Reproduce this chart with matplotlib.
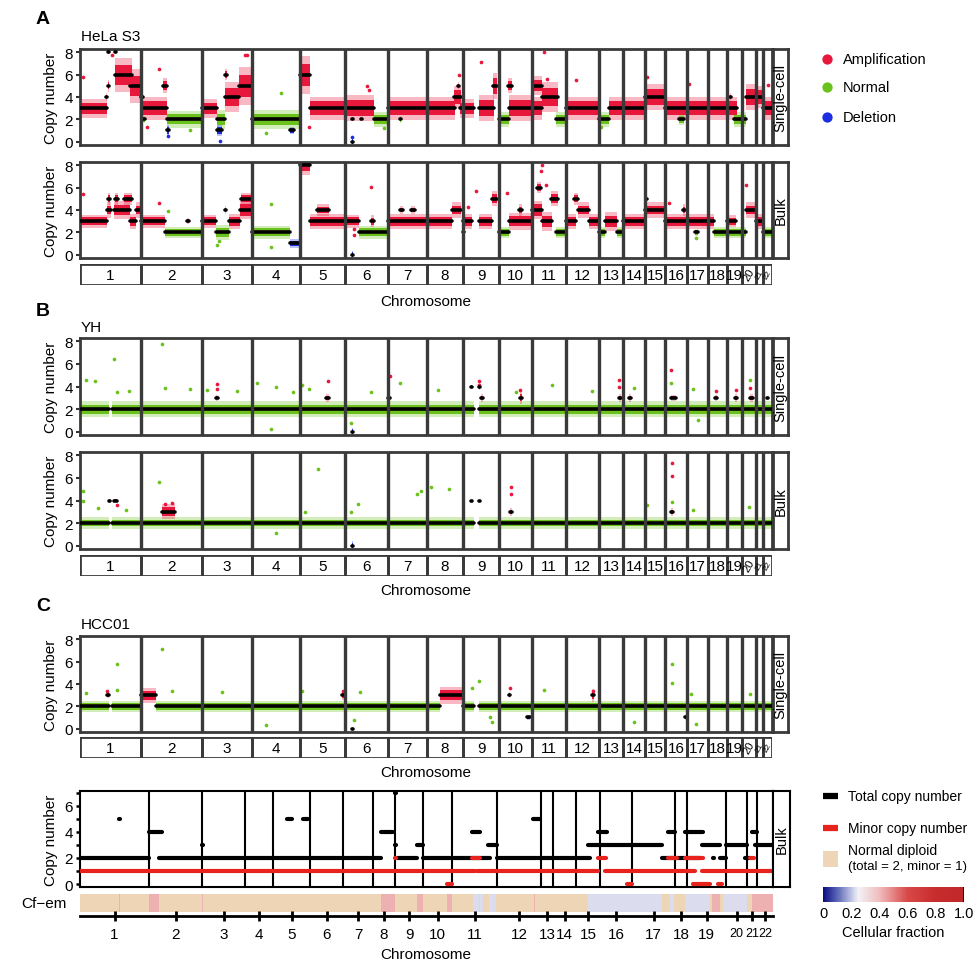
import matplotlib
matplotlib.use("Agg")
import matplotlib.pyplot as plt
import numpy as np
from matplotlib.patches import Rectangle
from matplotlib.colors import LinearSegmentedColormap, Normalize
from matplotlib.cm import ScalarMappable

plt.rcParams.update({"font.family": ["Liberation Sans", "DejaVu Sans"], "font.size": 10.5})

W, H = 973, 962

CHROMS = [str(i) for i in range(1, 23)]
# relative chromosome widths (bins) in the per-sample scatter tracks
CHROM_BINS = [61, 61, 50, 48, 45, 43, 39, 36, 36, 33, 34, 33, 24, 22, 20, 22, 21, 19, 15, 14, 7, 9]
# relative chromosome widths in the bulk allele-specific track
BULK_BINS = [69, 53, 43, 28, 37, 33, 30, 22, 28, 29, 45, 44, 12, 23, 24, 32, 43, 12, 39, 21, 10, 16]

# segments: (chrom, start_frac, end_frac, copy_number, bin_spread)
HELA_SC_SEGS = [
    (1, 0.00, 0.44, 3, 0.5), (1, 0.42, 0.44, 4, 0.2), (1, 0.46, 0.48, 5, 0.3), (1, 0.46, 0.48, 8, 0.1),
    (1, 0.57, 0.59, 8, 0.1), (1, 0.57, 0.85, 6, 0.9), (1, 0.82, 0.98, 5, 0.9),
    (2, 0.00, 0.04, 4, 0.3), (2, 0.04, 0.42, 3, 0.6), (2, 0.36, 0.42, 5, 0.4), (2, 0.42, 1.00, 2, 0.45),
    (2, 0.43, 0.46, 1, 0.3), (2, 0.04, 0.06, 2, 0.2),
    (3, 0.00, 0.30, 3, 0.5), (3, 0.30, 0.46, 2, 0.5), (3, 0.30, 0.40, 1, 0.3), (3, 0.45, 0.49, 6, 0.3),
    (3, 0.46, 0.74, 4, 0.8), (3, 0.74, 1.00, 5, 1.0),
    (4, 0.00, 0.97, 2, 0.5), (4, 0.80, 0.87, 1, 0.2),
    (5, 0.00, 0.23, 6, 1.0), (5, 0.23, 1.00, 3, 0.6),
    (6, 0.00, 0.67, 3, 0.7), (6, 0.16, 0.19, 0, 0.25), (6, 0.16, 0.19, 2, 0.1), (6, 0.38, 0.40, 2, 0.1),
    (6, 0.67, 1.00, 2, 0.4),
    (7, 0.00, 1.00, 3, 0.6), (7, 0.30, 0.33, 2, 0.2),
    (8, 0.00, 0.78, 3, 0.6), (8, 0.75, 0.95, 4, 0.6), (8, 0.86, 0.90, 5, 0.2), (8, 0.92, 1.00, 3, 0.5),
    (9, 0.00, 0.30, 3, 0.5), (9, 0.45, 0.85, 3, 0.7), (9, 0.83, 0.95, 5, 0.7),
    (10, 0.00, 0.30, 2, 0.4), (10, 0.28, 0.38, 5, 0.4), (10, 0.30, 1.00, 3, 0.7),
    (11, 0.00, 0.30, 3, 0.6), (11, 0.04, 0.30, 5, 0.5), (11, 0.30, 0.75, 4, 0.8), (11, 0.28, 0.30, 6, 0.2),
    (11, 0.70, 1.00, 2, 0.4),
    (12, 0.00, 1.00, 3, 0.6),
    (13, 0.00, 0.40, 2, 0.4), (13, 0.40, 1.00, 3, 0.6),
    (14, 0.00, 1.00, 3, 0.6),
    (15, 0.00, 1.00, 4, 0.7),
    (16, 0.00, 1.00, 3, 0.6), (16, 0.65, 0.85, 2, 0.3),
    (17, 0.00, 1.00, 3, 0.6),
    (18, 0.00, 1.00, 3, 0.6),
    (19, 0.00, 0.65, 3, 0.6), (19, 0.20, 0.25, 4, 0.2), (19, 0.45, 1.00, 2, 0.4),
    (20, 0.00, 0.30, 2, 0.4), (20, 0.30, 1.00, 4, 0.7),
    (21, 0.00, 1.00, 4, 0.6),
    (22, 0.00, 1.00, 3, 0.6),
]
HELA_BULK_SEGS = [
    (1, 0.00, 0.44, 3, 0.35), (1, 0.44, 0.50, 4, 0.4), (1, 0.46, 0.49, 5, 0.3), (1, 0.55, 0.82, 4, 0.45),
    (1, 0.58, 0.62, 5, 0.3), (1, 0.72, 0.85, 5, 0.3), (1, 0.82, 0.92, 3, 0.4), (1, 0.92, 1.00, 4, 0.4),
    (2, 0.00, 0.40, 3, 0.35), (2, 0.40, 1.00, 2, 0.3), (2, 0.75, 0.78, 3, 0.15),
    (3, 0.00, 0.28, 3, 0.35), (3, 0.28, 0.53, 2, 0.4), (3, 0.45, 0.48, 4, 0.2), (3, 0.53, 0.75, 3, 0.4),
    (3, 0.75, 1.00, 4, 0.5), (3, 0.78, 1.00, 5, 0.3),
    (4, 0.00, 0.80, 2, 0.35), (4, 0.80, 1.00, 1, 0.25),
    (5, 0.00, 0.23, 8, 0.5), (5, 0.23, 1.00, 3, 0.4), (5, 0.38, 0.65, 4, 0.3),
    (6, 0.00, 0.33, 3, 0.35), (6, 0.16, 0.19, 0, 0.2), (6, 0.33, 1.00, 2, 0.35), (6, 0.60, 0.68, 3, 0.3),
    (7, 0.00, 1.00, 3, 0.4), (7, 0.30, 0.38, 4, 0.2), (7, 0.60, 0.68, 4, 0.2),
    (8, 0.00, 0.70, 3, 0.4), (8, 0.70, 0.95, 4, 0.4),
    (9, 0.00, 0.25, 3, 0.4), (9, 0.00, 0.03, 2, 0.1), (9, 0.45, 0.80, 3, 0.4), (9, 0.80, 0.95, 5, 0.4),
    (10, 0.00, 0.30, 2, 0.3), (10, 0.30, 1.00, 3, 0.45), (10, 0.60, 0.70, 4, 0.3),
    (11, 0.00, 0.30, 4, 0.5), (11, 0.30, 0.60, 3, 0.5), (11, 0.55, 0.75, 5, 0.4), (11, 0.15, 0.25, 6, 0.3),
    (11, 0.70, 1.00, 2, 0.3),
    (12, 0.00, 0.30, 3, 0.4), (12, 0.25, 0.35, 5, 0.3), (12, 0.35, 0.70, 4, 0.4), (12, 0.70, 1.00, 3, 0.4),
    (13, 0.00, 0.25, 2, 0.3), (13, 0.25, 0.75, 3, 0.5), (13, 0.75, 1.00, 2, 0.3),
    (14, 0.00, 1.00, 3, 0.4),
    (15, 0.00, 1.00, 4, 0.4), (15, 0.05, 0.10, 5, 0.2),
    (16, 0.00, 1.00, 3, 0.4), (16, 0.80, 0.90, 4, 0.3), (16, 0.75, 0.78, 2, 0.2),
    (17, 0.00, 1.00, 3, 0.4), (17, 0.40, 0.50, 2, 0.2),
    (18, 0.00, 0.30, 3, 0.4), (18, 0.30, 1.00, 2, 0.3),
    (19, 0.00, 1.00, 2, 0.3), (19, 0.00, 0.60, 3, 0.3),
    (20, 0.00, 0.30, 2, 0.3), (20, 0.30, 0.90, 4, 0.4),
    (21, 0.00, 1.00, 3, 0.4),
    (22, 0.00, 1.00, 2, 0.3),
]
YH_SC_SEGS = [
    (1, 0.00, 0.47, 2, 0.4), (1, 0.53, 1.00, 2, 0.4), (2, 0.00, 1.00, 2, 0.4), (3, 0.00, 1.00, 2, 0.4),
    (3, 0.28, 0.32, 3, 0.15), (4, 0.00, 1.00, 2, 0.4), (5, 0.00, 1.00, 2, 0.4), (5, 0.58, 0.64, 3, 0.2),
    (6, 0.00, 1.00, 2, 0.4), (6, 0.16, 0.19, 0, 0.2), (7, 0.00, 1.00, 2, 0.4), (7, 0.00, 0.04, 3, 0.15),
    (8, 0.00, 1.00, 2, 0.4), (9, 0.00, 0.30, 2, 0.4), (9, 0.45, 1.00, 2, 0.4), (9, 0.22, 0.25, 4, 0.1),
    (9, 0.45, 0.48, 4, 0.2), (9, 0.50, 0.55, 3, 0.2), (10, 0.00, 1.00, 2, 0.4), (10, 0.64, 0.70, 3, 0.3),
    (11, 0.00, 1.00, 2, 0.4), (12, 0.00, 1.00, 2, 0.4), (13, 0.00, 1.00, 2, 0.4), (13, 0.85, 0.92, 3, 0.2),
    (14, 0.00, 1.00, 2, 0.4), (14, 0.25, 0.35, 3, 0.2), (15, 0.00, 1.00, 2, 0.4), (16, 0.00, 1.00, 2, 0.4),
    (16, 0.25, 0.50, 3, 0.15), (17, 0.00, 1.00, 2, 0.4), (18, 0.00, 1.00, 2, 0.4), (18, 0.38, 0.45, 3, 0.15),
    (19, 0.00, 1.00, 2, 0.4), (19, 0.55, 0.65, 3, 0.2), (20, 0.00, 1.00, 2, 0.4), (20, 0.55, 0.75, 3, 0.2),
    (21, 0.00, 1.00, 2, 0.4), (22, 0.00, 1.00, 2, 0.4), (22, 0.40, 0.50, 3, 0.1),
]
YH_BULK_SEGS = [
    (1, 0.00, 0.47, 2, 0.3), (1, 0.53, 1.00, 2, 0.3), (1, 0.47, 0.49, 4, 0.1), (1, 0.55, 0.60, 4, 0.1),
    (2, 0.00, 1.00, 2, 0.3), (2, 0.35, 0.55, 3, 0.4), (3, 0.00, 1.00, 2, 0.3), (4, 0.00, 1.00, 2, 0.3),
    (5, 0.00, 1.00, 2, 0.3), (6, 0.00, 1.00, 2, 0.3), (6, 0.16, 0.19, 0, 0.25), (7, 0.00, 1.00, 2, 0.3),
    (8, 0.00, 1.00, 2, 0.3), (9, 0.00, 0.30, 2, 0.3), (9, 0.45, 1.00, 2, 0.3), (9, 0.22, 0.25, 4, 0.05),
    (9, 0.45, 0.48, 4, 0.05), (10, 0.00, 1.00, 2, 0.3), (10, 0.33, 0.38, 3, 0.2), (11, 0.00, 1.00, 2, 0.3),
    (12, 0.00, 1.00, 2, 0.3), (13, 0.00, 1.00, 2, 0.3), (14, 0.00, 1.00, 2, 0.3), (15, 0.00, 1.00, 2, 0.3),
    (16, 0.00, 1.00, 2, 0.3), (16, 0.28, 0.35, 3, 0.2), (17, 0.00, 1.00, 2, 0.3), (18, 0.00, 1.00, 2, 0.3),
    (19, 0.00, 1.00, 2, 0.3), (20, 0.00, 1.00, 2, 0.3), (21, 0.00, 1.00, 2, 0.3), (22, 0.00, 1.00, 2, 0.3),
]
HCC_SC_SEGS = [
    (1, 0.00, 0.47, 2, 0.3), (1, 0.53, 1.00, 2, 0.3), (1, 0.44, 0.47, 3, 0.15), (2, 0.00, 0.25, 3, 0.4),
    (2, 0.25, 1.00, 2, 0.3), (3, 0.00, 1.00, 2, 0.3), (4, 0.00, 1.00, 2, 0.3), (5, 0.00, 1.00, 2, 0.3),
    (5, 0.94, 0.97, 3, 0.25), (6, 0.00, 1.00, 2, 0.3), (6, 0.16, 0.19, 0, 0.1), (7, 0.00, 1.00, 2, 0.3),
    (8, 0.00, 0.35, 2, 0.3), (8, 0.35, 1.00, 3, 0.45), (9, 0.00, 0.30, 2, 0.3), (9, 0.45, 1.00, 2, 0.3),
    (10, 0.00, 1.00, 2, 0.3), (10, 0.30, 0.34, 3, 0.15), (10, 0.85, 0.95, 1, 0.15), (11, 0.00, 1.00, 2, 0.3),
    (12, 0.00, 1.00, 2, 0.3), (12, 0.78, 0.85, 3, 0.35), (13, 0.00, 1.00, 2, 0.3), (14, 0.00, 1.00, 2, 0.3),
    (15, 0.00, 1.00, 2, 0.3), (16, 0.00, 1.00, 2, 0.3), (16, 0.90, 0.95, 1, 0.15), (17, 0.00, 1.00, 2, 0.3),
    (18, 0.00, 1.00, 2, 0.3), (19, 0.00, 1.00, 2, 0.3), (20, 0.00, 1.00, 2, 0.3), (21, 0.00, 1.00, 2, 0.3),
    (22, 0.00, 1.00, 2, 0.3),
]

# isolated bins: (chrom, frac, copy_number, state) with A=amplification, N=normal, D=deletion
HELA_SC_PTS = [
    (1, 0.05, 5.8, "A"), (1, 0.52, 7.8, "A"), (2, 0.30, 6.5, "A"), (2, 0.10, 1.3, "A"), (3, 0.85, 7.8, "A"),
    (3, 0.90, 7.8, "A"), (5, 0.20, 1.3, "A"), (6, 0.50, 5.0, "A"), (6, 0.55, 4.6, "A"), (9, 0.50, 7.1, "A"),
    (8, 0.90, 6.0, "A"), (11, 0.35, 8.0, "A"), (11, 0.45, 5.6, "A"), (12, 0.30, 5.5, "A"), (15, 0.10, 5.8, "A"),
    (17, 0.10, 5.2, "A"), (22, 0.50, 5.1, "A"), (2, 0.80, 1.0, "N"), (4, 0.30, 0.8, "N"), (4, 0.60, 4.4, "N"),
    (6, 0.90, 1.2, "N"), (13, 0.10, 1.3, "N"), (2, 0.45, 0.5, "D"), (3, 0.35, 0.1, "D"), (6, 0.17, 0.4, "D"),
]
HELA_BULK_PTS = [
    (1, 0.05, 5.4, "A"), (2, 0.30, 4.6, "A"), (6, 0.60, 6.1, "A"), (6, 0.20, 2.3, "A"), (6, 0.22, 1.8, "A"),
    (9, 0.35, 5.7, "A"), (9, 0.15, 4.3, "A"), (10, 0.25, 5.5, "A"), (11, 0.30, 8.0, "A"), (11, 0.25, 7.5, "A"),
    (11, 0.40, 6.2, "A"), (16, 0.20, 4.6, "A"), (20, 0.30, 6.2, "A"), (2, 0.45, 3.9, "N"), (3, 0.30, 0.9, "N"),
    (3, 0.33, 1.2, "N"), (4, 0.40, 4.5, "N"), (4, 0.40, 0.7, "N"), (17, 0.45, 1.5, "N"),
]
YH_SC_PTS = [
    (1, 0.10, 4.6, "N"), (1, 0.25, 4.5, "N"), (1, 0.55, 6.4, "N"), (1, 0.60, 3.5, "N"), (1, 0.80, 3.6, "N"),
    (2, 0.35, 7.8, "N"), (2, 0.40, 3.9, "N"), (2, 0.80, 3.8, "N"), (3, 0.10, 3.7, "N"), (3, 0.70, 3.6, "N"),
    (4, 0.10, 4.3, "N"), (4, 0.40, 0.2, "N"), (4, 0.50, 4.0, "N"), (4, 0.85, 3.5, "N"), (5, 0.05, 4.1, "N"),
    (5, 0.20, 3.8, "N"), (6, 0.15, 0.8, "N"), (6, 0.60, 3.5, "N"), (7, 0.30, 4.3, "N"), (8, 0.30, 3.7, "N"),
    (10, 0.50, 3.5, "N"), (11, 0.60, 4.1, "N"), (12, 0.80, 3.6, "N"), (14, 0.50, 3.9, "N"), (16, 0.25, 4.3, "N"),
    (17, 0.30, 3.8, "N"), (17, 0.50, 1.0, "N"), (20, 0.60, 4.6, "N"),
    (3, 0.30, 4.2, "A"), (3, 0.30, 3.8, "A"), (5, 0.62, 4.5, "A"), (7, 0.05, 4.9, "A"), (9, 0.45, 4.5, "A"),
    (9, 0.45, 4.1, "A"), (10, 0.65, 3.7, "A"), (13, 0.85, 4.6, "A"), (13, 0.85, 4.0, "A"), (16, 0.25, 5.5, "A"),
    (18, 0.40, 3.6, "A"), (19, 0.60, 3.7, "A"), (20, 0.60, 3.9, "A"),
]
YH_BULK_PTS = [
    (1, 0.05, 4.8, "N"), (1, 0.05, 4.0, "N"), (1, 0.30, 3.3, "N"), (1, 0.75, 3.2, "N"), (2, 0.30, 5.6, "N"),
    (5, 0.40, 6.8, "N"), (5, 0.10, 3.0, "N"), (6, 0.30, 3.7, "N"), (6, 0.15, 3.0, "N"), (7, 0.75, 4.6, "N"),
    (7, 0.85, 4.8, "N"), (8, 0.10, 5.2, "N"), (8, 0.60, 5.0, "N"), (15, 0.10, 3.6, "N"), (16, 0.30, 3.9, "N"),
    (17, 0.30, 3.2, "N"), (20, 0.50, 3.4, "N"), (4, 0.50, 1.1, "N"),
    (2, 0.40, 3.7, "A"), (2, 0.50, 3.8, "A"), (10, 0.35, 5.2, "A"), (10, 0.35, 4.6, "A"), (16, 0.30, 7.3, "A"),
    (16, 0.30, 6.2, "A"), (1, 0.60, 3.6, "A"),
]
HCC_SC_PTS = [
    (1, 0.60, 5.8, "N"), (1, 0.60, 3.5, "N"), (1, 0.10, 3.2, "N"), (2, 0.35, 7.1, "N"), (2, 0.50, 3.4, "N"),
    (3, 0.40, 3.3, "N"), (4, 0.30, 0.3, "N"), (5, 0.05, 3.4, "N"), (6, 0.20, 0.8, "N"), (6, 0.35, 3.3, "N"),
    (9, 0.45, 4.3, "N"), (9, 0.25, 3.6, "N"), (9, 0.75, 1.0, "N"), (9, 0.80, 0.6, "N"), (11, 0.35, 3.5, "N"),
    (14, 0.50, 0.6, "N"), (16, 0.30, 5.8, "N"), (16, 0.30, 4.1, "N"), (17, 0.20, 3.1, "N"), (17, 0.45, 0.4, "N"),
    (20, 0.60, 3.1, "N"),
    (1, 0.45, 3.4, "A"), (5, 0.95, 3.4, "A"), (10, 0.32, 3.6, "A"), (12, 0.82, 3.4, "A"),
]

# bulk allele-specific segments: (chrom, start_frac, end_frac, copy_number)
TOTAL_CN = [
    (1, 0.00, 1.00, 2), (1, 0.56, 0.58, 5), (2, 0.00, 0.25, 4), (2, 0.19, 1.00, 2), (3, 0.00, 1.00, 2),
    (3, 0.00, 0.02, 3), (4, 0.00, 1.00, 2), (5, 0.00, 1.00, 2), (5, 0.38, 0.50, 5), (5, 0.81, 0.95, 5),
    (6, 0.00, 1.00, 2), (7, 0.00, 1.00, 2), (8, 0.00, 0.36, 2), (8, 0.36, 0.92, 4), (9, 0.00, 0.03, 7),
    (9, 0.00, 0.03, 3), (9, 0.07, 0.80, 2), (9, 0.78, 1.00, 3), (10, 0.00, 0.93, 2), (11, 0.00, 0.84, 2),
    (11, 0.44, 0.62, 4), (11, 0.80, 1.00, 3), (12, 0.00, 1.00, 2), (12, 0.82, 0.98, 5), (13, 0.00, 1.00, 2),
    (14, 0.00, 1.00, 2), (15, 0.00, 0.58, 2), (15, 0.50, 1.00, 3), (15, 0.92, 1.00, 4), (16, 0.00, 0.22, 4),
    (16, 0.00, 1.00, 3), (17, 0.00, 0.70, 3), (17, 0.70, 1.00, 2), (17, 0.84, 1.00, 4), (18, 0.00, 1.00, 2),
    (18, 0.83, 1.00, 4), (19, 0.00, 0.41, 4), (19, 0.00, 0.33, 2), (19, 0.38, 0.85, 3), (19, 0.66, 0.68, 2),
    (19, 0.85, 1.00, 2), (20, 0.00, 1.00, 3), (20, 0.90, 1.00, 2), (21, 0.00, 0.30, 2), (21, 0.50, 1.00, 4),
    (21, 0.80, 1.00, 3), (22, 0.00, 1.00, 3), (22, 0.98, 1.00, 4),
]
MINOR_CN = [
    (1, 0.00, 1.00, 1), (2, 0.00, 1.00, 1), (3, 0.00, 1.00, 1), (4, 0.00, 1.00, 1), (5, 0.00, 1.00, 1),
    (6, 0.00, 1.00, 1), (7, 0.00, 1.00, 1), (8, 0.00, 1.00, 1), (9, 0.00, 1.00, 1), (10, 0.00, 1.00, 1),
    (11, 0.00, 0.52, 1), (11, 0.56, 1.00, 1), (12, 0.00, 1.00, 1), (13, 0.00, 1.00, 1), (14, 0.00, 1.00, 1),
    (15, 0.00, 0.92, 1), (16, 0.15, 1.00, 1), (17, 0.00, 0.95, 1), (18, 0.00, 1.00, 1), (19, 0.00, 0.20, 1),
    (19, 0.38, 1.00, 1), (20, 0.00, 1.00, 1), (21, 0.00, 1.00, 1), (22, 0.00, 1.00, 1),
    (9, 0.00, 0.03, 2), (11, 0.44, 0.62, 2), (15, 0.92, 1.00, 2), (16, 0.00, 0.20, 2), (17, 0.84, 1.00, 2),
    (18, 0.00, 0.17, 2), (18, 0.83, 1.00, 2), (19, 0.00, 0.40, 2), (21, 0.30, 0.70, 2), (22, 0.98, 1.00, 2),
    (6, 0.81, 0.83, 0), (9, 0.59, 0.61, 0), (10, 0.83, 1.00, 0), (16, 0.85, 1.00, 0), (17, 0.57, 0.59, 0),
    (19, 0.15, 0.58, 0), (19, 0.80, 0.90, 0), (22, 0.98, 1.00, 0),
]
# cellular fraction of non-diploid segments (rest is normal diploid): (chrom, start, end, cf)
CF_SEGS = [
    (1, 0.56, 0.58, 0.42), (2, 0.00, 0.19, 0.42), (3, 0.00, 0.02, 0.42), (5, 0.61, 0.63, 0.42),
    (5, 0.83, 0.85, 0.42), (6, 0.81, 0.83, 0.42), (8, 0.36, 1.00, 0.42), (9, 0.78, 1.00, 0.42),
    (10, 0.82, 1.00, 0.42), (11, 0.46, 0.60, 0.23), (11, 0.62, 0.69, 0.23), (11, 0.82, 0.98, 0.23),
    (12, 0.85, 0.87, 0.42), (15, 0.50, 1.00, 0.23), (15, 0.95, 0.97, 0.08), (16, 0.00, 1.00, 0.23),
    (17, 0.00, 0.70, 0.23), (17, 0.88, 0.98, 0.23), (18, 0.83, 1.00, 0.23), (19, 0.00, 0.60, 0.23),
    (19, 0.17, 0.19, 0.08), (19, 0.35, 0.37, 0.08), (19, 0.40, 0.42, 0.08), (19, 0.50, 0.52, 0.08),
    (19, 0.64, 0.85, 0.42), (19, 0.81, 0.83, 0.08), (19, 0.92, 1.00, 0.23), (20, 0.00, 1.00, 0.23),
    (21, 0.50, 1.00, 0.42), (22, 0.00, 1.00, 0.42),
]
CF_TICKS = [0, 0.2, 0.4, 0.6, 0.8, 1.0]
CF_TICK_LABELS = ["0", "0.2", "0.4", "0.6", "0.8", "1.0"]

AMP, NORM, DEL = "#e8173c", "#6cc21c", "#1c2fe0"
STATE_COLORS = {"A": AMP, "N": NORM, "D": DEL}
FRAME = "#3a3a3a"
BEIGE = "#eed5b5"
MINOR_RED = "#e8221c"
CF_CMAP = LinearSegmentedColormap.from_list(
    "cf", [(0, "#0d0d80"), (0.1, "#5a66b8"), (0.25, "#f2f2f7"), (0.4, "#f0bcbc"),
           (0.6, "#d84848"), (0.8, "#c82c2c"), (1, "#c0282a")])


def add_px_axes(fig, x0, y0, x1, y1):
    return fig.add_axes([x0 / W, 1 - y1 / H, (x1 - x0) / W, (y1 - y0) / H])


def starts_of(bins):
    return np.concatenate([[0], np.cumsum(bins)[:-1]])


def seg_x(bins, chrom, s, e):
    st = starts_of(bins)[chrom - 1]
    return st + s * bins[chrom - 1], st + e * bins[chrom - 1]


def state_color(cn):
    if cn > 2:
        return AMP
    if cn < 2:
        return DEL
    return NORM


def draw_cn_row(ax, segs, pts):
    for chrom, s, e, cn, sd in segs:
        x0, x1 = seg_x(CHROM_BINS, chrom, s, e)
        col = state_color(cn)
        # sparse halo of bins, then dense core
        ax.fill_between([x0, x1], cn - 1.7 * sd, cn + 1.7 * sd, color=col, alpha=0.3, lw=0, zorder=1)
        ax.fill_between([x0, x1], cn - sd, cn + sd, color=col, lw=0, zorder=1.5)
    for chrom, f, v, st in pts:
        x, _ = seg_x(CHROM_BINS, chrom, f, f)
        ax.scatter(x, v, s=7, color=STATE_COLORS[st], lw=0, zorder=2)
    for chrom, s, e, cn, sd in segs:
        x0, x1 = seg_x(CHROM_BINS, chrom, s, e)
        ax.plot([x0, x1], [cn, cn], color="black", lw=2.6, solid_capstyle="round", zorder=3)

    ax.set_xlim(0, sum(CHROM_BINS))
    ax.set_ylim(-0.3, 8.3)
    ax.set_xticks([])
    ax.set_yticks([0, 2, 4, 6, 8])
    for sp in ax.spines.values():
        sp.set_color(FRAME)
        sp.set_linewidth(2)
    for x in starts_of(CHROM_BINS)[1:]:
        ax.axvline(x, color=FRAME, lw=2.4, zorder=4)
    ax.tick_params(axis="y", length=3, width=1.5, color="#333333", labelsize=11, pad=2)
    ax.set_ylabel("Copy number", fontsize=11, labelpad=5)


def draw_strip(ax, label, edge=FRAME, lw=2):
    ax.set_xticks([])
    ax.set_yticks([])
    for sp in ax.spines.values():
        sp.set_color(edge)
        sp.set_linewidth(lw)
    ax.text(0.5, 0.5, label, rotation=90, ha="center", va="center", fontsize=10.5, transform=ax.transAxes)


def draw_chrom_bar(ax):
    st = starts_of(CHROM_BINS)
    for i, name in enumerate(CHROMS):
        ax.add_patch(Rectangle((st[i], 0), CHROM_BINS[i], 1, fill=False, ec=FRAME, lw=2))
        if int(name) >= 20:
            ax.text(st[i] + CHROM_BINS[i] / 2, 0.5, name, ha="center", va="center",
                    fontsize=8 if name == "20" else 6, rotation=60)
        else:
            ax.text(st[i] + CHROM_BINS[i] / 2, 0.48, name, ha="center", va="center", fontsize=11)
    ax.set_xlim(0, sum(CHROM_BINS))
    ax.set_ylim(0, 1)
    ax.axis("off")


fig = plt.figure(figsize=(W / 100, H / 100), dpi=100)

# scatter panels: (segs, pts, y_top, y_bottom, strip label)
rows = [
    (HELA_SC_SEGS, HELA_SC_PTS, 50, 146, "Single-cell"),
    (HELA_BULK_SEGS, HELA_BULK_PTS, 163, 259, "Bulk"),
    (YH_SC_SEGS, YH_SC_PTS, 339, 436, "Single-cell"),
    (YH_BULK_SEGS, YH_BULK_PTS, 453, 550, "Bulk"),
    (HCC_SC_SEGS, HCC_SC_PTS, 637, 733, "Single-cell"),
]
for segs, pts, y0, y1, lab in rows:
    ax = add_px_axes(fig, 80, y0, 772, y1)
    draw_cn_row(ax, segs, pts)
    draw_strip(add_px_axes(fig, 773, y0, 788, y1), lab)

for y0, y1 in [(265, 286), (556, 577), (738, 759)]:
    draw_chrom_bar(add_px_axes(fig, 80, y0, 772, y1))

# bulk allele-specific copy number track
axb = add_px_axes(fig, 80, 792, 773, 888)
for chrom, s, e, cn in TOTAL_CN:
    x0, x1 = seg_x(BULK_BINS, chrom, s, e)
    axb.plot([x0, x1], [cn, cn], color="black", lw=3, solid_capstyle="round", zorder=3)
for chrom, s, e, cn in MINOR_CN:
    x0, x1 = seg_x(BULK_BINS, chrom, s, e)
    axb.plot([x0, x1], [cn, cn], color=MINOR_RED, lw=3, solid_capstyle="round", zorder=4)
for x in starts_of(BULK_BINS)[1:]:
    axb.axvline(x, color="black", lw=1.5, zorder=2)
axb.set_xlim(0, sum(BULK_BINS))
axb.set_ylim(-0.23, 7.15)
axb.set_xticks([])
axb.set_yticks([0, 2, 4, 6])
axb.set_yticks([1, 3, 5, 7], minor=True)
axb.tick_params(axis="y", which="both", length=3, width=1.8, labelsize=11, pad=2)
for sp in axb.spines.values():
    sp.set_linewidth(1.5)
axb.set_ylabel("Copy number", fontsize=11, labelpad=5)
draw_strip(add_px_axes(fig, 773, 792, 790, 888), "Bulk", edge="black", lw=1.5)

# Cf-em heatmap
axc = add_px_axes(fig, 80, 895, 773, 913)
axc.add_patch(Rectangle((0, 0), sum(BULK_BINS), 1, color=BEIGE, lw=0))
for chrom, s, e, cf in CF_SEGS:
    x0, x1 = seg_x(BULK_BINS, chrom, s, e)
    axc.add_patch(Rectangle((x0, 0), x1 - x0, 1, color=CF_CMAP(cf), lw=0))
axc.set_xlim(0, sum(BULK_BINS))
axc.set_ylim(0, 1)
for side in ["top", "left", "right"]:
    axc.spines[side].set_visible(False)
axc.spines["bottom"].set_position(("outward", 3))
axc.spines["bottom"].set_linewidth(2)
axc.set_yticks([])
mids = starts_of(BULK_BINS) + np.asarray(BULK_BINS) / 2
axc.set_xticks(mids)
axc.set_xticklabels(CHROMS, fontsize=11)
for lbl in axc.get_xticklabels()[19:]:
    lbl.set_fontsize(9)
axc.tick_params(axis="x", direction="inout", length=7, width=2, pad=4)

# colour bar
cax = add_px_axes(fig, 823, 888, 964, 903)
cb = fig.colorbar(ScalarMappable(norm=Normalize(0, 1), cmap=CF_CMAP), cax=cax,
                  orientation="horizontal", ticks=CF_TICKS)
cb.set_ticklabels(CF_TICK_LABELS)
cb.outline.set_visible(False)
cax.axvline(1.0, color="black", lw=2)
cax.tick_params(length=0, labelsize=10.5, pad=3)

# overlay for text and legends, pixel coordinates
ov = fig.add_axes([0, 0, 1, 1])
ov.set_xlim(0, W)
ov.set_ylim(H, 0)
ov.axis("off")

for letter, y in [("A", 20), ("B", 312), ("C", 607)]:
    ov.text(43, y, letter, fontsize=14, fontweight="bold", ha="center", va="center")
for name, y in [("HeLa S3", 37), ("YH", 328), ("HCC01", 625)]:
    ov.text(81, y, name, fontsize=11, ha="left", va="center")
for y in [302, 591, 773, 955]:
    ov.text(426, y, "Chromosome", fontsize=11, ha="center", va="center")
ov.text(44, 904, "Cf\u2212em", fontsize=11, ha="center", va="center")

for lab, col, y in [("Amplification", AMP, 60), ("Normal", NORM, 88), ("Deletion", DEL, 118)]:
    ov.scatter(827, y, s=55, color=col, lw=0)
    ov.text(843, y, lab, fontsize=10.5, ha="left", va="center")

ov.plot([823, 838], [797, 797], color="black", lw=4.5, solid_capstyle="butt")
ov.text(848, 797, "Total copy number", fontsize=10, ha="left", va="center")
ov.plot([823, 838], [829, 829], color=MINOR_RED, lw=4.5, solid_capstyle="butt")
ov.text(848, 829, "Minor copy number", fontsize=10, ha="left", va="center")
ov.add_patch(Rectangle((823, 852), 15, 16, color=BEIGE, lw=0))
ov.text(848, 851, "Normal diploid", fontsize=10, ha="left", va="center")
ov.text(848, 867, "(total = 2, minor = 1)", fontsize=9.5, ha="left", va="center")
ov.text(893, 933, "Cellular fraction", fontsize=10.5, ha="center", va="center")

fig.savefig("out.png", dpi=100)
